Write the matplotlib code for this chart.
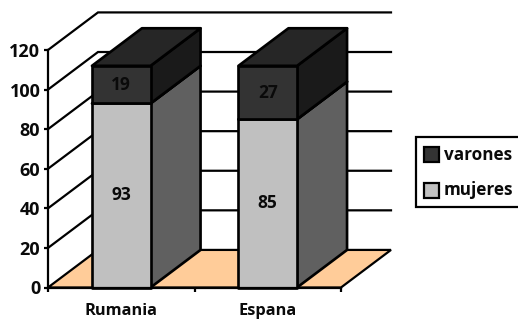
import matplotlib
matplotlib.use("Agg")
import matplotlib.pyplot as plt
from matplotlib.patches import Polygon, Rectangle

plt.rcParams['font.family'] = ['Open Sans', 'DejaVu Sans']

paises = ["Rumania", "Espana"]
mujeres = [93, 85]
varones = [19, 27]
ticks_y = [0, 20, 40, 60, 80, 100, 120]

# colores: frente, lado, tapa
col_mujeres = ("#c0c0c0", "#606060", "#4d4d4d")
col_varones = ("#333333", "#1a1a1a", "#262626")
col_suelo = "#ffcc99"

W, H = 518, 321
lw = 1.6
ancho = 0.4
# profundidad de la perspectiva en unidades de datos
dx = 50 / 146.5
dy = 37.5 / 1.975

fig = plt.figure(figsize=(W / 100, H / 100), dpi=100)
ax = fig.add_axes([48 / W, (H - 287.5) / H, 293 / W, 237.5 / H])
ax.set_xlim(0, 2)
ax.set_ylim(0, 120)
ax.patch.set_visible(False)
for s in ["top", "right"]:
    ax.spines[s].set_visible(False)
for s in ["left", "bottom"]:
    ax.spines[s].set_linewidth(lw)
    ax.spines[s].set_zorder(6)

# suelo
ax.add_patch(Polygon([(0, 0), (dx, dy), (2 + dx, dy), (2, 0)], closed=True,
                     fc=col_suelo, ec="black", lw=lw, clip_on=False, zorder=1))

# paredes: lineas de la rejilla
for t in ticks_y[1:]:
    ax.plot([0, dx, 2 + dx], [t, t + dy, t + dy], color="black", lw=lw,
            clip_on=False, zorder=1, solid_joinstyle="miter")


def caja(x0, y0, y1, cols):
    x1 = x0 + ancho
    estilo = dict(closed=True, ec="black", lw=lw * 1.2, clip_on=False,
                  zorder=3, joinstyle="round")
    ax.add_patch(Polygon([(x1, y0), (x1 + dx, y0 + dy), (x1 + dx, y1 + dy), (x1, y1)],
                         fc=cols[1], **estilo))
    ax.add_patch(Polygon([(x0, y1), (x1, y1), (x1 + dx, y1 + dy), (x0 + dx, y1 + dy)],
                         fc=cols[2], **estilo))
    ax.add_patch(Polygon([(x0, y0), (x1, y0), (x1, y1), (x0, y1)],
                         fc=cols[0], **estilo))


for i in range(len(paises)):
    x0 = i + 0.5 - ancho / 2
    m, v = mujeres[i], varones[i]
    caja(x0, 0, m, col_mujeres)
    caja(x0, m, m + v, col_varones)
    ax.text(i + 0.5, m / 2, str(m), ha="center", va="center", fontsize=12.5,
            fontweight="bold", color="#0a0a0a", zorder=5)
    ax.text(i + 0.5, m + v / 2, str(v), ha="center", va="center", fontsize=12.5,
            fontweight="bold", color="#0a0a0a", zorder=5)

ax.set_yticks(ticks_y)
ax.set_yticklabels([str(t) for t in ticks_y], fontsize=13, fontweight="bold", color="#0a0a0a")
ax.set_xticks([0, 1, 2])
ax.set_xticklabels([])
ax.set_xticks([0.5, 1.5], minor=True)
ax.set_xticklabels(paises, minor=True, fontsize=11.8, fontweight="bold", color="#0a0a0a")
ax.tick_params(axis="both", which="major", length=3, width=lw, pad=2.5)
ax.tick_params(axis="x", which="minor", length=0, pad=11)

# leyenda, el borde derecho queda fuera de la figura
fig.add_artist(Rectangle((416 / W, (H - 207) / H), 110 / W, 70 / H, transform=fig.transFigure,
                         fc="white", ec="black", lw=lw))
for y, col, nombre in [(154.5, col_varones[0], "varones"), (190, col_mujeres[0], "mujeres")]:
    fig.add_artist(Rectangle((424 / W, (H - y - 7.5) / H), 15 / W, 15 / H,
                             transform=fig.transFigure, fc=col, ec="black", lw=lw))
    fig.text(444 / W, (H - y) / H, nombre, ha="left", va="center", fontsize=12.3,
             fontweight="bold", color="#0a0a0a")

fig.savefig("out.png", dpi=100)
